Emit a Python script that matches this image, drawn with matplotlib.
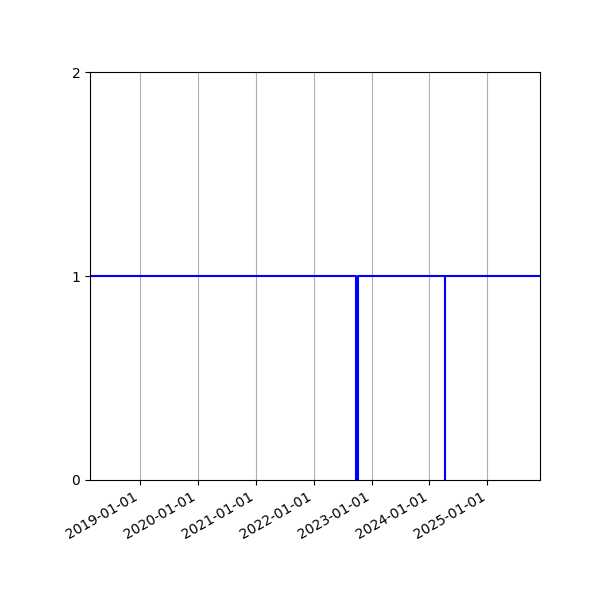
import matplotlib
matplotlib.use("Agg")
import matplotlib.pyplot as plt
import matplotlib.dates as mdates
import numpy as np
import pandas as pd

# state changes (1 = up, 0 = down)
dates = pd.to_datetime([
    "2018-02-20",
    "2022-09-28",
    "2022-10-10",
    "2024-04-10",
    "2024-04-11",
    "2025-11-29",
])
values = [1, 0, 1, 0, 1, 1]
yticks = [0, 1, 2]

fig, ax = plt.subplots(figsize=(6, 6), dpi=100)

ax.step(dates, values, where="post", color="blue", linewidth=1.5)

ax.set_xlim(dates[0], dates[-1])
ax.set_ylim(0, 2)
ax.set_yticks(yticks)
ax.xaxis.set_major_locator(mdates.YearLocator())
ax.xaxis.set_major_formatter(mdates.DateFormatter("%Y-%m-%d"))
ax.grid(True, axis="x")

fig.autofmt_xdate()
fig.subplots_adjust(left=0.15, right=0.9, top=0.88, bottom=0.2)

fig.savefig("out.png")
